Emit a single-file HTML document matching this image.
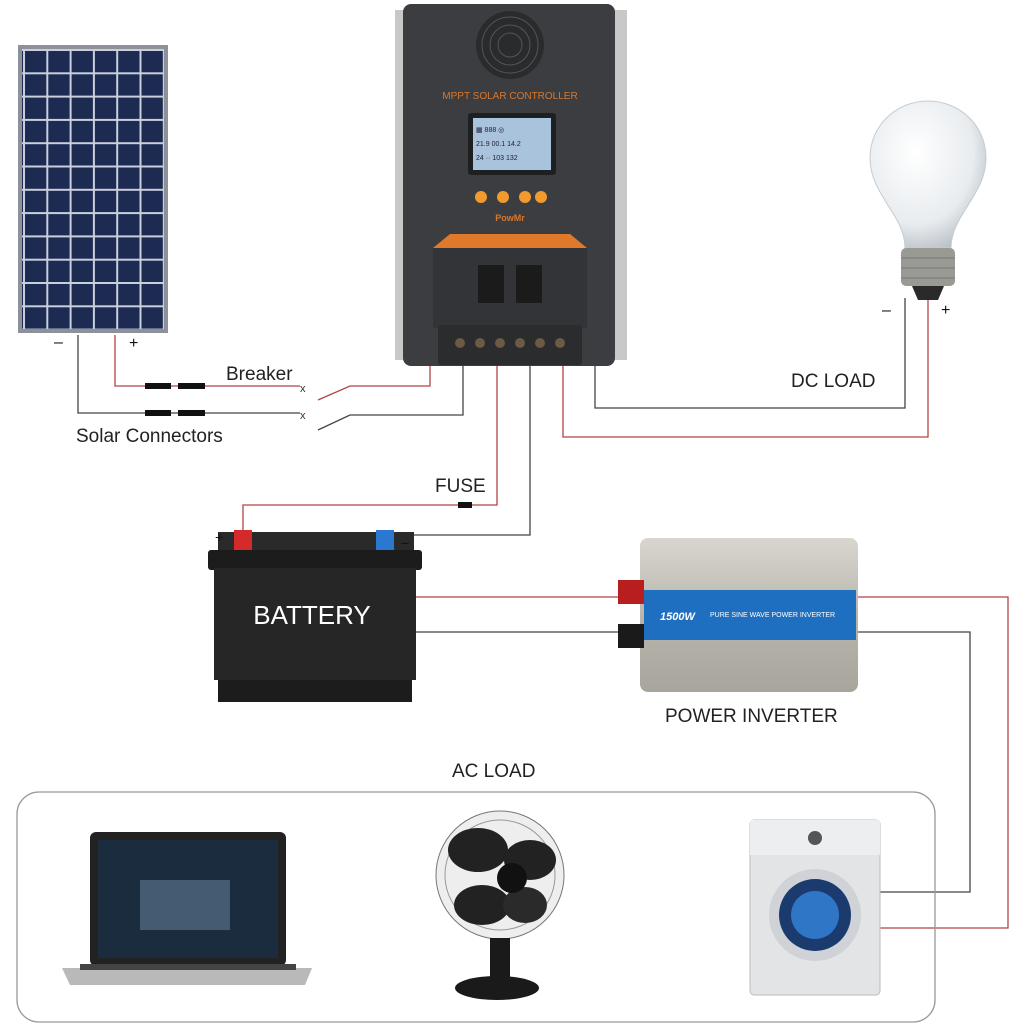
<!DOCTYPE html>
<html><head><meta charset="utf-8"><style>
html,body{margin:0;padding:0;background:#fff;}
svg{display:block;}
text{font-family:"Liberation Sans",sans-serif;}
</style></head><body>
<svg width="1024" height="1024" viewBox="0 0 1024 1024" xmlns="http://www.w3.org/2000/svg">
<defs>
<pattern id="cells" x="24" y="50" width="23.3" height="23.3" patternUnits="userSpaceOnUse">
<rect width="23.3" height="23.3" fill="#c9cfdb"/>
<rect x="1" y="1" width="21.3" height="21.3" fill="#1d2a52"/>
</pattern>
<linearGradient id="silver" x1="0" y1="0" x2="0" y2="1">
<stop offset="0" stop-color="#d8d6cf"/><stop offset="0.5" stop-color="#b9b6ad"/><stop offset="1" stop-color="#a8a59c"/>
</linearGradient>
<radialGradient id="bulb" cx="0.4" cy="0.35" r="0.7">
<stop offset="0" stop-color="#ffffff"/><stop offset="0.7" stop-color="#e8ecef"/><stop offset="1" stop-color="#b9c0c6"/>
</radialGradient>
</defs>

<g fill="none" stroke-width="1.3">
<path d="M115,335 V386 H300 M318,400 L350,386 H430 V362" stroke="#b04545"/>
<path d="M78,335 V413 H300 M318,430 L350,415 H463 V362" stroke="#444"/>
<path d="M497,362 V505 H243 V532" stroke="#b04545"/>
<path d="M530,362 V535 H410" stroke="#444"/>
<path d="M595,362 V408 H905 V298" stroke="#444"/>
<path d="M563,362 V437 H928 V298" stroke="#b04545"/>
<path d="M415,597 H622" stroke="#b04545"/>
<path d="M415,632 H622" stroke="#444"/>
<path d="M855,597 H1008 V928 H880" stroke="#b04545"/>
<path d="M855,632 H970 V892 H880" stroke="#444"/>
</g>
<g fill="#111">
<rect x="145" y="383" width="26" height="6"/><rect x="178" y="383" width="27" height="6"/>
<rect x="145" y="410" width="26" height="6"/><rect x="178" y="410" width="27" height="6"/>
<rect x="458" y="502" width="14" height="6"/>
</g>
<text x="300" y="392" font-size="11" fill="#333">x</text>
<text x="300" y="419" font-size="11" fill="#333">x</text>

<rect x="18" y="45" width="150" height="288" fill="#8d9199"/>
<rect x="22" y="49" width="142" height="280" fill="url(#cells)"/>

<rect x="395" y="10" width="12" height="350" fill="#c8c8c8"/>
<rect x="613" y="10" width="14" height="350" fill="#c8c8c8"/>
<rect x="403" y="4" width="212" height="362" rx="8" fill="#3c3d40"/>
<circle cx="510" cy="45" r="34" fill="#2a2b2d"/>
<g stroke="#555" fill="none"><circle cx="510" cy="45" r="28"/><circle cx="510" cy="45" r="20"/><circle cx="510" cy="45" r="12"/></g>
<text x="510" y="99" font-size="10" fill="#d9772b" text-anchor="middle">MPPT SOLAR CONTROLLER</text>
<rect x="468" y="113" width="88" height="62" rx="3" fill="#1e1f21"/>
<rect x="473" y="118" width="78" height="52" fill="#a9c3dc"/>
<g font-size="7" fill="#223"><text x="476" y="132">▦ 888 ◎</text><text x="476" y="146">21.9 00.1 14.2</text><text x="476" y="160">24 ·· 103 132</text></g>
<g fill="#f29a2e"><circle cx="481" cy="197" r="6"/><circle cx="503" cy="197" r="6"/><circle cx="525" cy="197" r="6"/><circle cx="541" cy="197" r="6"/></g>
<text x="510" y="221" font-size="9" fill="#d9772b" text-anchor="middle" font-weight="bold">PowMr</text>
<path d="M433,248 L450,234 H570 L587,248 Z" fill="#e07a2a"/>
<rect x="433" y="248" width="154" height="80" fill="#333437"/>
<g fill="#1b1b1c"><rect x="478" y="265" width="26" height="38"/><rect x="516" y="265" width="26" height="38"/></g>
<rect x="438" y="325" width="144" height="40" rx="3" fill="#2b2c2e"/>
<g fill="#6d5a44"><circle cx="460" cy="343" r="5"/><circle cx="480" cy="343" r="5"/><circle cx="500" cy="343" r="5"/><circle cx="520" cy="343" r="5"/><circle cx="540" cy="343" r="5"/><circle cx="560" cy="343" r="5"/></g>

<path d="M905,248 C905,215 870,195 870,158 C870,125 897,101 928,101 C959,101 986,125 986,158 C986,195 951,215 951,248 Z" fill="url(#bulb)" stroke="#c5ccd1"/>
<rect x="901" y="248" width="54" height="38" rx="5" fill="#9a9a94"/>
<g stroke="#777"><line x1="901" y1="258" x2="955" y2="258"/><line x1="901" y1="268" x2="955" y2="268"/><line x1="901" y1="278" x2="955" y2="278"/></g>
<path d="M912,286 H944 L938,300 H918 Z" fill="#2a2a2a"/>
<text x="882" y="315" font-size="16" fill="#111">–</text>
<text x="941" y="315" font-size="16" fill="#111">+</text>

<text x="54" y="347" font-size="16" fill="#111">–</text>
<text x="129" y="348" font-size="16" fill="#111">+</text>
<text x="226" y="380" font-size="19" fill="#222">Breaker</text>
<text x="76" y="442" font-size="19" fill="#222">Solar Connectors</text>
<text x="791" y="387" font-size="19" fill="#222">DC LOAD</text>
<text x="435" y="492" font-size="19" fill="#222">FUSE</text>
<text x="665" y="722" font-size="19" fill="#222">POWER INVERTER</text>
<text x="452" y="777" font-size="19" fill="#222">AC LOAD</text>

<rect x="218" y="532" width="196" height="20" fill="#2a2a2a"/>
<rect x="234" y="530" width="18" height="20" fill="#d52a2a"/>
<rect x="376" y="530" width="18" height="20" fill="#2a78d0"/>
<rect x="208" y="550" width="214" height="20" rx="3" fill="#1c1c1c"/>
<rect x="214" y="568" width="202" height="112" fill="#262626"/>
<rect x="218" y="680" width="194" height="22" fill="#1c1c1c"/>
<text x="312" y="624" font-size="26" fill="#fff" text-anchor="middle">BATTERY</text>
<text x="215" y="542" font-size="14" fill="#111">+</text>
<text x="401" y="547" font-size="14" fill="#111">–</text>

<rect x="640" y="538" width="218" height="154" rx="8" fill="url(#silver)"/>
<rect x="644" y="590" width="212" height="50" fill="#1f6fc0"/>
<text x="660" y="620" font-size="11" fill="#fff" font-style="italic" font-weight="bold">1500W</text>
<text x="710" y="617" font-size="7" fill="#fff">PURE SINE WAVE POWER INVERTER</text>
<rect x="618" y="580" width="26" height="24" fill="#b81e1e"/>
<rect x="618" y="624" width="26" height="24" fill="#1a1a1a"/>

<rect x="17" y="792" width="918" height="230" rx="22" fill="none" stroke="#999" stroke-width="1.3"/>

<rect x="90" y="832" width="196" height="134" rx="6" fill="#222"/>
<rect x="98" y="840" width="180" height="118" fill="#1a2c3d"/>
<g fill="#6f8aa8"><rect x="140" y="880" width="90" height="50" opacity="0.5"/></g>
<path d="M62,968 H312 L305,985 H70 Z" fill="#b9b9b9"/>
<rect x="80" y="964" width="216" height="6" fill="#444"/>

<circle cx="500" cy="875" r="64" fill="#eee" stroke="#777"/>
<ellipse cx="500" cy="875" rx="55" ry="55" fill="none" stroke="#999"/>
<ellipse cx="478" cy="850" rx="30" ry="22" fill="#222"/>
<ellipse cx="530" cy="860" rx="26" ry="20" fill="#222"/>
<ellipse cx="482" cy="905" rx="28" ry="20" fill="#222"/>
<ellipse cx="525" cy="905" rx="22" ry="18" fill="#2a2a2a"/>
<circle cx="512" cy="878" r="15" fill="#111"/>
<rect x="490" y="938" width="20" height="40" fill="#1a1a1a"/>
<ellipse cx="497" cy="988" rx="42" ry="12" fill="#1a1a1a"/>

<rect x="750" y="820" width="130" height="175" rx="4" fill="#e3e4e6" stroke="#bbb"/>
<rect x="750" y="820" width="130" height="35" fill="#eceef0"/>
<circle cx="815" cy="915" r="46" fill="#cfd3d8"/>
<circle cx="815" cy="915" r="36" fill="#1b3b6e"/>
<circle cx="815" cy="915" r="24" fill="#2f76c6"/>
<circle cx="815" cy="838" r="7" fill="#555"/>
</svg>
</body></html>
